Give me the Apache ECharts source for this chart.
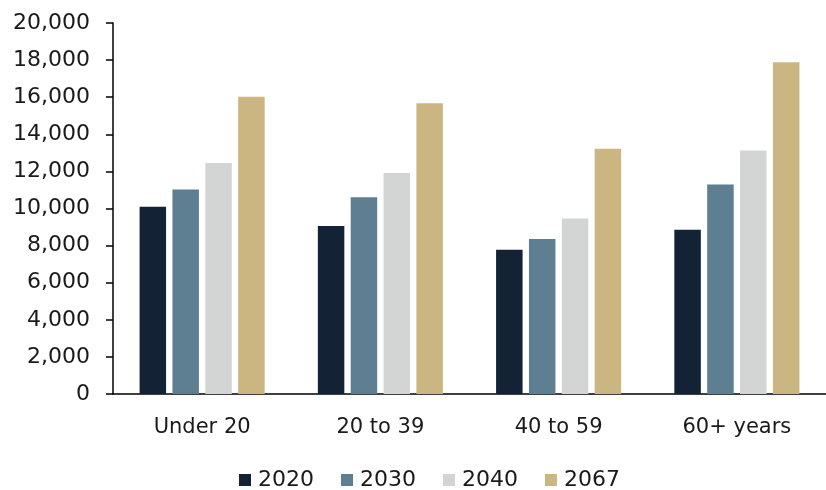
<!DOCTYPE html>
<html>
<head>
<meta charset="utf-8">
<script src="https://cdn.jsdelivr.net/npm/echarts@6/dist/echarts.min.js"></script>
<style>html,body{margin:0;padding:0;background:#fff}#c{width:826px;height:490px}</style>
</head>
<body>
<div id="c"></div>
<script>
const categories = ['Under 20', '20 to 39', '40 to 59', '60+ years'];
const seriesNames = ['2020', '2030', '2040', '2067'];
const v2020 = [10090, 9050, 7770, 8850];
const v2030 = [11030, 10610, 8350, 11300];
const v2040 = [12450, 11920, 9460, 13130];
const v2067 = [16020, 15670, 13220, 17880];
const colors = ['#142236', '#5e7f92', '#d3d5d5', '#cbb682'];
const values = [v2020, v2030, v2040, v2067];

const chart = echarts.init(document.getElementById('c'), null, {renderer: 'canvas'});
const font = 'DejaVu Sans';
chart.setOption({
  animation: false,
  backgroundColor: '#fff',
  grid: {left: 113, top: 23, bottom: 96, right: -5, containLabel: false},
  legend: {
    data: seriesNames,
    left: 234, top: 464,
    itemWidth: 12, itemHeight: 12, itemGap: 27,
    icon: 'rect',
    textStyle: {fontFamily: font, fontSize: 22, color: '#1a1a1a', padding: [0,0,0,2]}
  },
  xAxis: {
    type: 'category',
    data: categories,
    axisLine: {lineStyle: {color: '#000', width: 1.5}},
    axisTick: {show: false},
    axisLabel: {fontFamily: font, fontSize: 21, color: '#1a1a1a', margin: 23}
  },
  yAxis: {
    type: 'value',
    min: 0, max: 20000, interval: 2000,
    axisLine: {show: true, lineStyle: {color: '#000', width: 1.5}},
    axisTick: {show: true, length: 7, lineStyle: {color: '#000', width: 1.5}},
    splitLine: {show: false},
    axisLabel: {fontFamily: font, fontSize: 22, color: '#1a1a1a', margin: 23,
      formatter: v => v.toLocaleString('en-US')}
  },
  series: seriesNames.map((n, i) => ({
    name: n,
    type: 'bar',
    data: values[i],
    barWidth: 26.5,
    barGap: '24%',
    itemStyle: {color: colors[i]}
  }))
});
</script>
</body>
</html>
